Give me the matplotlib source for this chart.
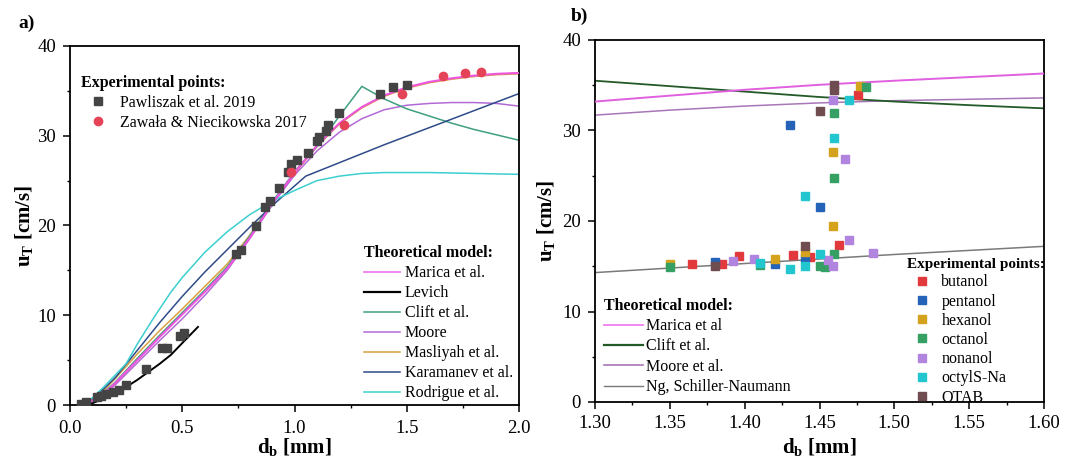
import matplotlib
matplotlib.use("Agg")
import matplotlib.pyplot as plt
from matplotlib.ticker import MultipleLocator, FormatStrFormatter
from matplotlib.lines import Line2D

plt.rcParams['font.family'] = ['Liberation Serif', 'DejaVu Serif']
plt.rcParams['mathtext.fontset'] = 'custom'
plt.rcParams['mathtext.rm'] = 'Liberation Serif'
plt.rcParams['mathtext.bf'] = 'Liberation Serif:bold'
plt.rcParams['mathtext.it'] = 'Liberation Serif:italic'

# ---------------- Panel a) data ----------------
paw_x = [0.05, 0.07, 0.12, 0.14, 0.16, 0.19, 0.22, 0.25, 0.34, 0.41, 0.43, 0.49, 0.51,
         0.74, 0.76, 0.83, 0.87, 0.89, 0.93, 0.97, 0.985, 1.01, 1.06, 1.10, 1.11, 1.14,
         1.15, 1.20, 1.38, 1.44, 1.50]
paw_y = [0.1, 0.3, 0.85, 1.0, 1.2, 1.4, 1.7, 2.2, 4.0, 6.4, 6.4, 7.7, 8.0,
         16.8, 17.3, 19.9, 22.1, 22.7, 24.2, 26.0, 26.8, 27.3, 28.1, 29.4, 29.9, 30.5,
         31.2, 32.5, 34.6, 35.4, 35.7]
zaw_x = [0.985, 1.22, 1.48, 1.66, 1.76, 1.83]
zaw_y = [26.0, 31.2, 34.6, 36.7, 37.0, 37.1]

grid_x = [0.05, 0.1, 0.15, 0.2, 0.3, 0.4, 0.5, 0.6, 0.7, 0.8, 0.9, 1.0,
          1.1, 1.2, 1.3, 1.4, 1.5, 1.6, 1.7, 1.8, 1.9, 2.0]
marica_y = [0.0, 0.5, 1.3, 2.4, 5.0, 7.6, 10.1, 12.6, 15.2, 18.6, 22.4, 25.9,
            28.9, 31.4, 33.2, 34.5, 35.4, 36.0, 36.4, 36.7, 36.9, 37.0]
moore_y = [0.0, 0.45, 1.2, 2.2, 4.7, 7.2, 9.6, 12.2, 15.0, 18.5, 22.3, 25.6,
           28.3, 30.4, 31.9, 32.9, 33.4, 33.6, 33.7, 33.7, 33.6, 33.3]
masliyah_y = [0.0, 0.6, 1.6, 2.9, 5.7, 8.3, 10.7, 13.2, 15.7, 18.9, 22.5, 25.8,
              28.8, 31.3, 33.1, 34.4, 35.3, 35.9, 36.3, 36.6, 36.8, 36.9]
clift_x = [0.05, 0.1, 0.15, 0.2, 0.3, 0.4, 0.5, 0.6, 0.7, 0.8, 0.9, 1.0,
           1.1, 1.2, 1.3, 1.4, 1.5, 1.6, 1.7, 1.8, 1.9, 2.0]
clift_y = [0.0, 0.5, 1.4, 2.5, 5.2, 7.8, 10.3, 12.8, 15.4, 18.8, 22.6, 26.0,
           28.8, 32.2, 35.5, 34.1, 33.0, 32.2, 31.4, 30.7, 30.1, 29.5]
levich_x = [0.05, 0.1, 0.15, 0.2, 0.25, 0.3, 0.35, 0.4, 0.45, 0.5, 0.57]
levich_y = [0.0, 0.2, 0.7, 1.3, 2.0, 2.8, 3.7, 4.6, 5.6, 6.9, 8.7]
kara_x = [0.05, 0.1, 0.15, 0.2, 0.3, 0.4, 0.5, 0.6, 0.7, 0.8, 0.9, 1.0, 1.05,
          1.2, 1.4, 1.6, 1.8, 2.0]
kara_y = [0.0, 0.7, 1.8, 3.0, 6.1, 9.2, 12.1, 14.8, 17.3, 19.8, 22.2, 24.4, 25.5,
          27.0, 29.0, 30.9, 32.8, 34.7]
rod_x = [0.05, 0.1, 0.15, 0.2, 0.25, 0.3, 0.37, 0.45, 0.5, 0.6, 0.7, 0.8, 0.9,
         1.0, 1.1, 1.2, 1.3, 1.4, 1.6, 1.8, 2.0]
rod_y = [0.0, 0.8, 2.0, 3.3, 4.6, 6.8, 9.6, 12.6, 14.2, 17.0, 19.3, 21.2, 22.7,
         23.9, 25.0, 25.5, 25.8, 25.9, 25.9, 25.8, 25.7]

# ---------------- Panel b) data ----------------
b_line_x = [1.30, 1.35, 1.40, 1.45, 1.50, 1.55, 1.60]
b_marica_y = [33.2, 33.85, 34.5, 35.05, 35.5, 35.9, 36.3]
b_clift_y = [35.5, 34.9, 34.3, 33.7, 33.2, 32.8, 32.45]
b_moore_y = [31.7, 32.25, 32.7, 33.05, 33.3, 33.45, 33.6]
b_ng_y = [14.3, 14.8, 15.3, 15.8, 16.3, 16.75, 17.2]

butanol_x = [1.365, 1.385, 1.396, 1.432, 1.4435, 1.463, 1.476]
butanol_y = [15.3, 15.3, 16.1, 16.2, 16.0, 17.3, 33.9]
pentanol_x = [1.38, 1.42, 1.44, 1.43, 1.45]
pentanol_y = [15.5, 15.3, 15.9, 30.6, 21.6]
hexanol_x = [1.35, 1.42, 1.44, 1.459, 1.459, 1.477]
hexanol_y = [15.3, 15.8, 16.6, 19.5, 27.6, 34.9]
octanol_x = [1.35, 1.41, 1.45, 1.454, 1.46, 1.46, 1.46, 1.481]
octanol_y = [14.9, 15.1, 15.0, 14.9, 16.4, 24.7, 31.9, 34.8]
nonanol_x = [1.392, 1.406, 1.456, 1.459, 1.47, 1.486, 1.467, 1.459]
nonanol_y = [15.6, 15.8, 15.7, 15.0, 17.9, 16.5, 26.8, 33.4]
octyl_x = [1.41, 1.43, 1.44, 1.45, 1.44, 1.46, 1.47]
octyl_y = [15.4, 14.7, 15.0, 16.3, 22.8, 29.2, 33.4]
otab_x = [1.38, 1.44, 1.45, 1.46, 1.46]
otab_y = [15.0, 17.2, 32.2, 34.5, 35.0]

W, H = 1065, 469
fig = plt.figure(figsize=(W / 100, H / 100), dpi=100)

def px_axes(l, r, t, b):
    return fig.add_axes([l / W, 1 - b / H, (r - l) / W, (b - t) / H])

axA = px_axes(70, 519, 46, 405)
axB = px_axes(595, 1044, 40, 402)

TICK_FS = 13.5
for ax in (axA, axB):
    for s in ax.spines.values():
        s.set_linewidth(1.3)
    ax.tick_params(which='major', direction='out', length=5, width=1.1, labelsize=TICK_FS)
    ax.tick_params(which='minor', direction='out', length=2.5, width=1.0)
    ax.tick_params(axis='y', which='major', pad=5)
axA.tick_params(axis='x', which='major', pad=6)
axB.tick_params(axis='x', which='major', pad=4)

lw = 1.1
# Panel a lines
axA.plot(grid_x, masliyah_y, color='#d9a040', lw=lw, zorder=2)
axA.plot(grid_x, moore_y, color='#b36ad6', lw=lw, zorder=2)
axA.plot(clift_x, clift_y, color='#3f9f80', lw=lw, zorder=2)
axA.plot(kara_x, kara_y, color='#2f4c88', lw=lw, zorder=2)
axA.plot(rod_x, rod_y, color='#3ccfcf', lw=lw, zorder=2)
axA.plot(levich_x, levich_y, color='black', lw=1.4, zorder=3)
axA.plot(grid_x, marica_y, color='#ee55dd', lw=1.5, zorder=4)

pA = axA.plot(paw_x, paw_y, 's', color='#444444', ms=6, ls='none', zorder=5,
              label='Pawliszak et al. 2019')[0]
zA = axA.plot(zaw_x, zaw_y, 'o', color='#e54458', ms=6, ls='none', zorder=5,
              label='Zawała & Niecikowska 2017')[0]

axA.set_xlim(0, 2.0)
axA.set_ylim(0, 40)
axA.xaxis.set_major_locator(MultipleLocator(0.5))
axA.xaxis.set_minor_locator(MultipleLocator(0.25))
axA.xaxis.set_major_formatter(FormatStrFormatter('%.1f'))
axA.yaxis.set_major_locator(MultipleLocator(10))
axA.yaxis.set_minor_locator(MultipleLocator(5))
axA.set_xlabel(r'$\mathbf{d_b}$ [mm]', fontsize=15, fontweight='bold', labelpad=-1)
axA.set_ylabel(r'$\mathbf{u_T}$ [cm/s]', fontsize=15, fontweight='bold', labelpad=2)

leg_exp_a = axA.legend(handles=[pA, zA], loc='upper left', bbox_to_anchor=(0.025, 0.92),
                       frameon=False, fontsize=11.5, title='Experimental points:',
                       title_fontproperties={'weight': 'bold', 'size': 11.5},
                       alignment='left', handlelength=2.1, handletextpad=0.35,
                       labelspacing=0.25, borderpad=0, borderaxespad=0)
axA.add_artist(leg_exp_a)

theo_a = [
    Line2D([], [], color='#f07ff0', lw=1.3, label='Marica et al.'),
    Line2D([], [], color='black', lw=1.6, label='Levich'),
    Line2D([], [], color='#3f9f80', lw=1.1, label='Clift et al.'),
    Line2D([], [], color='#b36ad6', lw=1.1, label='Moore'),
    Line2D([], [], color='#d9a040', lw=1.1, label='Masliyah et al.'),
    Line2D([], [], color='#2f4c88', lw=1.1, label='Karamanev et al.'),
    Line2D([], [], color='#3ccfcf', lw=1.1, label='Rodrigue et al.'),
]
axA.legend(handles=theo_a, loc='lower left', bbox_to_anchor=(0.655, 0.01),
           frameon=False, fontsize=11.5, title='Theoretical model:',
           title_fontproperties={'weight': 'bold', 'size': 11.5},
           alignment='left', handlelength=2.25, handletextpad=0.3,
           labelspacing=0.25, borderpad=0, borderaxespad=0)

# Panel b lines
axB.plot(b_line_x, b_ng_y, color='#7a7a7a', lw=1.1, zorder=2)
axB.plot(b_line_x, b_moore_y, color='#a877b8', lw=1.1, zorder=2)
axB.plot(b_line_x, b_clift_y, color='#235a28', lw=1.3, zorder=2)
axB.plot(b_line_x, b_marica_y, color='#e060e0', lw=1.4, zorder=3)

ms = 5.5
series_b = [
    (butanol_x, butanol_y, '#e23a3c', 'butanol'),
    (pentanol_x, pentanol_y, '#2463b8', 'pentanol'),
    (hexanol_x, hexanol_y, '#d4a21c', 'hexanol'),
    (octanol_x, octanol_y, '#36a064', 'octanol'),
    (nonanol_x, nonanol_y, '#b184e0', 'nonanol'),
    (octyl_x, octyl_y, '#22c6cf', 'octylS-Na'),
    (otab_x, otab_y, '#6e4c50', 'OTAB'),
]
exp_handles = []
for xs, ys, c, lab in series_b:
    h = axB.plot(xs, ys, 's', color=c, ms=ms, ls='none', zorder=5, label=lab)[0]
    exp_handles.append(h)

axB.set_xlim(1.30, 1.60)
axB.set_ylim(0, 40)
axB.xaxis.set_major_locator(MultipleLocator(0.05))
axB.xaxis.set_minor_locator(MultipleLocator(0.025))
axB.xaxis.set_major_formatter(FormatStrFormatter('%.2f'))
axB.yaxis.set_major_locator(MultipleLocator(10))
axB.yaxis.set_minor_locator(MultipleLocator(5))
axB.set_xlabel(r'$\mathbf{d_b}$ [mm]', fontsize=15, fontweight='bold', labelpad=3)
axB.set_ylabel(r'$\mathbf{u_T}$ [cm/s]', fontsize=15, fontweight='bold', labelpad=4)

theo_b = [
    Line2D([], [], color='#f07ff0', lw=1.3, label='Marica et al'),
    Line2D([], [], color='#235a28', lw=1.6, label='Clift et al.'),
    Line2D([], [], color='#a877b8', lw=1.2, label='Moore et al.'),
    Line2D([], [], color='#7a7a7a', lw=1.0, label='Ng, Schiller-Naumann'),
]
leg_b1 = axB.legend(handles=theo_b, loc='lower left', bbox_to_anchor=(0.02, 0.019),
                    frameon=False, fontsize=11.5, title='Theoretical model:',
                    title_fontproperties={'weight': 'bold', 'size': 11.5},
                    alignment='left', handlelength=2.45, handletextpad=0.15,
                    labelspacing=0.27, borderpad=0, borderaxespad=0)
axB.add_artist(leg_b1)
axB.legend(handles=exp_handles, loc='lower left', bbox_to_anchor=(0.695, -0.01),
           frameon=False, fontsize=11.5, title='Experimental points:',
           title_fontproperties={'weight': 'bold', 'size': 11},
           alignment='left', handlelength=1.9, handletextpad=0.25,
           labelspacing=0.2, borderpad=0, borderaxespad=0)

fig.text(18 / W, 1 - 23 / H, 'a)', fontsize=14, fontweight='bold', va='center', ha='left')
fig.text(571 / W, 1 - 16 / H, 'b)', fontsize=14, fontweight='bold', va='center', ha='left')

fig.savefig('out.png', dpi=100)
